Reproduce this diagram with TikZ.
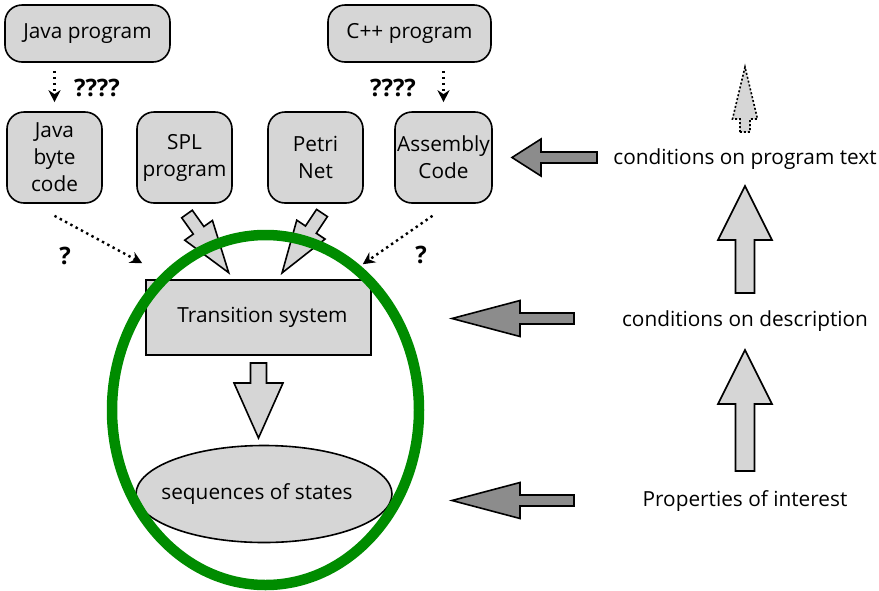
\documentclass[tikz,border=0pt]{standalone}
\usepackage{fontspec}
\setmainfont{Open Sans}
\usetikzlibrary{arrows.meta,shapes.geometric,calc}

\definecolor{boxgray}{RGB}{214,214,214}
\definecolor{arrowdark}{RGB}{140,140,140}
\definecolor{ringgreen}{RGB}{0,140,0}

% block arrow along +x from the origin: total length, head length, head width, shaft width
\newcommand{\blockarrow}[7][]{%
  \draw[barrow,#1,shift={(#2)},rotate=#3]
    (0,-#7/2) -- (#4-#5,-#7/2) -- (#4-#5,-#6/2) -- (#4,0)
    -- (#4-#5,#6/2) -- (#4-#5,#7/2) -- (0,#7/2) -- cycle;}

\tikzset{
  every node/.style={font=\fontsize{20.8}{27}\selectfont},
  rbox/.style={draw, line width=1.6pt, fill=boxgray, rounded corners=17pt,
               align=center, inner sep=0pt},
  sqbox/.style={draw, line width=1.6pt, fill=boxgray, inner sep=0pt},
  oval/.style={draw, ellipse, line width=1.6pt, fill=boxgray, inner sep=0pt},
  plain/.style={inner sep=0pt},
  qmark/.style={inner sep=0pt, font=\fontsize{24}{28}\selectfont\bfseries},
  dotarrow/.style={line width=2.4pt, dash pattern=on 2.4pt off 3.6pt,
                   -{Stealth[length=12pt,width=12pt]}},
  barrow/.style={draw, line width=1.6pt, fill=boxgray, line join=miter},
  darkarrow/.style={fill=arrowdark},
  dotbarrow/.style={dash pattern=on 2pt off 2pt}
}

\begin{document}
\begin{tikzpicture}[x=1pt,y=-1pt]
\useasboundingbox (0,0) rectangle (879,590);

% source languages
\node[rbox, minimum width=165pt, minimum height=57pt] (java) at (87.5,33.5) {Java program};
\node[rbox, minimum width=163pt, minimum height=57pt] (cpp) at (409.5,33.5) {C++ program};

% intermediate descriptions
\node[rbox, minimum width=95pt, minimum height=91pt] (jbc) at (54.5,157.5) {Java\\byte\\code};
\node[rbox, minimum width=95pt, minimum height=91pt] (spl) at (184.5,157.5) {SPL\\program};
\node[rbox, minimum width=95pt, minimum height=91pt] (petri) at (315.5,157.5) {Petri\\Net};
\node[rbox, minimum width=97pt, minimum height=91pt] (asm) at (443.5,157.5) {Assembly\\Code};

% semantic model
\node[sqbox, minimum width=225pt, minimum height=75pt] (ts) at (258.5,317.5) {\hspace{8pt}Transition system};
\node[oval, minimum width=256pt, minimum height=97pt] (seq) at (264,494)
  {\makebox[0pt]{\hspace*{-14pt}sequences of states}};

% translations
\draw[dotarrow] ([yshift=-8pt]java.south -| jbc.north) -- ([yshift=9pt]jbc.north);
\draw[dotarrow] ([yshift=-8pt]cpp.south -| asm.north) -- ([yshift=9pt]asm.north);
\node[qmark] (q4a) at (97,88) {????};
\node[qmark] (q4b) at (393,88) {????};

\draw[dotarrow] ([yshift=-12pt]jbc.south) -- ([shift={(-3pt,16pt)}]ts.north west);
\draw[dotarrow] ([shift={(-11pt,-12pt)}]asm.south) -- ([shift={(-9pt,15pt)}]ts.north east);
\node[qmark] (q1) at (65,256) {?};
\node[qmark] (q2) at (421,255) {?};

\blockarrow{187,214}{-54.6}{72}{52}{34}{13}
\blockarrow{322,213}{-123.7}{72}{52}{34}{13}
\blockarrow{258.5,363}{-90}{75}{55}{49}{16}

% scope of the model
\draw[ringgreen, line width=10.5pt] (265.5,410) ellipse [x radius=153.5, y radius=175];

% requirement levels
\node[plain] (cpt) at (745,159) {conditions on program text};
\node[plain] (cd) at (745,321) {conditions on description};
\node[plain] (poi) at (745,501) {Properties of interest};

\blockarrow{745,471}{90}{121}{54}{54}{19}
\blockarrow{745,293}{90}{107}{54}{54}{19}
\blockarrow[dotbarrow]{745,132}{90}{65}{52}{25}{10}

\blockarrow[darkarrow]{597,157.5}{180}{85}{29}{37}{11}
\blockarrow[darkarrow]{574,318.5}{180}{122}{68}{36}{11}
\blockarrow[darkarrow]{574,500.5}{180}{122}{68}{36}{11}
\end{tikzpicture}
\end{document}
